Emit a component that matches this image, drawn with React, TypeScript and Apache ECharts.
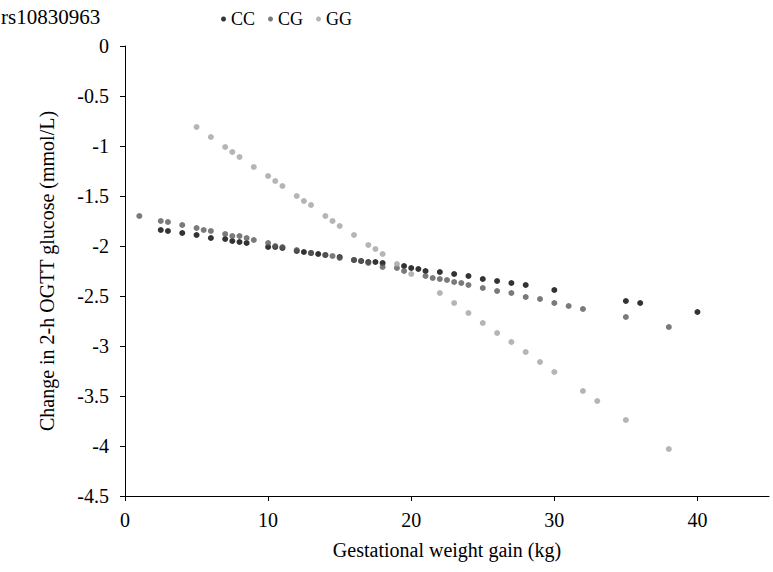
import React, { useEffect, useRef } from "react";
import * as echarts from "echarts";

const chartTitle = "rs10830963";
const xAxisName = "Gestational weight gain (kg)";
const yAxisName = "Change in 2-h OGTT glucose (mmol/L)";
const seriesNames = ["CC", "CG", "GG"];

const ccX = [2.5, 3, 4, 5, 6, 7, 7.5, 8, 8.5, 10, 10.5, 11, 12, 12.5, 13, 13.5, 14, 15, 16, 16.5, 17, 17.5, 18, 19.5, 20, 20.5, 21, 22, 23, 24, 25, 26, 27, 28, 30, 35, 36, 40];
const ccY = [-1.84, -1.85, -1.87, -1.89, -1.92, -1.93, -1.95, -1.96, -1.97, -2.01, -2.01, -2.02, -2.05, -2.06, -2.07, -2.08, -2.09, -2.11, -2.14, -2.15, -2.16, -2.16, -2.17, -2.2, -2.22, -2.23, -2.25, -2.26, -2.28, -2.3, -2.33, -2.35, -2.37, -2.39, -2.44, -2.55, -2.57, -2.66];

const cgX = [1, 2.5, 3, 4, 5, 5.5, 6, 7, 7.5, 8, 8.5, 9, 10, 10.5, 11, 12, 13, 14, 14.5, 15, 16, 16.5, 17, 18, 19, 19.5, 21, 21.5, 22, 22.5, 23, 23.5, 24, 25, 26, 27, 28, 29, 30, 31, 32, 35, 38];
const cgY = [-1.7, -1.75, -1.76, -1.79, -1.82, -1.84, -1.85, -1.88, -1.9, -1.9, -1.92, -1.94, -1.97, -2.0, -2.01, -2.04, -2.07, -2.09, -2.1, -2.12, -2.14, -2.15, -2.17, -2.21, -2.22, -2.25, -2.3, -2.32, -2.33, -2.34, -2.36, -2.37, -2.39, -2.42, -2.45, -2.47, -2.51, -2.53, -2.57, -2.6, -2.63, -2.71, -2.81];

const ggX = [5, 6, 7, 7.5, 8, 9, 10, 10.5, 11, 12, 12.5, 13, 14, 14.5, 15, 16, 17, 17.5, 18, 19, 20, 22, 23, 24, 25, 26, 27, 28, 29, 30, 32, 33, 35, 38];
const ggY = [-0.81, -0.91, -1.01, -1.06, -1.11, -1.21, -1.3, -1.35, -1.4, -1.5, -1.55, -1.59, -1.7, -1.75, -1.8, -1.89, -1.99, -2.03, -2.08, -2.18, -2.28, -2.47, -2.57, -2.67, -2.77, -2.87, -2.96, -3.06, -3.16, -3.26, -3.45, -3.55, -3.74, -4.03];

const colors = ["#000000", "#595959", "#a3a3a3"];
const FONT = "Liberation Serif";

function pairs(xs: number[], ys: number[]) {
  return xs.map((x, i) => [x, ys[i]]);
}

export default function App() {
  const ref = useRef<HTMLDivElement>(null);
  useEffect(() => {
    if (!ref.current) return;
    const chart = echarts.init(ref.current, null, { renderer: "svg" });
    const data = [pairs(ccX, ccY), pairs(cgX, cgY), pairs(ggX, ggY)];
    chart.setOption({
      animation: false,
      backgroundColor: "#ffffff",
      textStyle: { fontFamily: FONT, color: "#000" },
      title: {
        text: chartTitle,
        left: -4,
        top: 1,
        textStyle: { fontFamily: FONT, fontSize: 21, fontWeight: "normal", color: "#000" },
      },
      legend: {
        left: 216,
        top: 5,
        icon: "circle",
        itemWidth: 5,
        itemHeight: 5,
        itemGap: 13,
        data: seriesNames,
        textStyle: { fontFamily: FONT, fontSize: 18, color: "#000" },
      },
      grid: { left: 125, right: 4, top: 46, bottom: 76, containLabel: false },
      xAxis: {
        type: "value",
        min: 0,
        max: 45,
        interval: 10,
        name: xAxisName,
        nameLocation: "middle",
        nameGap: 44,
        nameTextStyle: { fontFamily: FONT, fontSize: 20, color: "#000" },
        axisLine: { show: true, onZero: false, lineStyle: { color: "#000", width: 1 } },
        axisTick: { show: true, inside: false, length: 5, lineStyle: { color: "#000" } },
        axisLabel: {
          fontFamily: FONT,
          fontSize: 20,
          color: "#000",
          margin: 14,
          showMaxLabel: false,
        },
        splitLine: { show: false },
      },
      yAxis: {
        type: "value",
        min: -4.5,
        max: 0,
        interval: 0.5,
        name: yAxisName,
        nameLocation: "middle",
        nameGap: 68,
        nameTextStyle: { fontFamily: FONT, fontSize: 20, color: "#000" },
        axisLine: { show: true, onZero: false, lineStyle: { color: "#000", width: 1 } },
        axisTick: { show: true, inside: false, length: 5, lineStyle: { color: "#000" } },
        axisLabel: { fontFamily: FONT, fontSize: 20, color: "#000", margin: 16 },
        splitLine: { show: false },
      },
      series: seriesNames.map((name, i) => ({
        name,
        type: "scatter",
        data: data[i],
        symbol: "circle",
        symbolSize: 6,
        itemStyle: { color: colors[i] },
      })),
    });
    return () => chart.dispose();
  }, []);
  return (
    <div
      ref={ref}
      style={{ position: "fixed", left: 0, top: 0, width: 773, height: 572, background: "#fff" }}
    />
  );
}
